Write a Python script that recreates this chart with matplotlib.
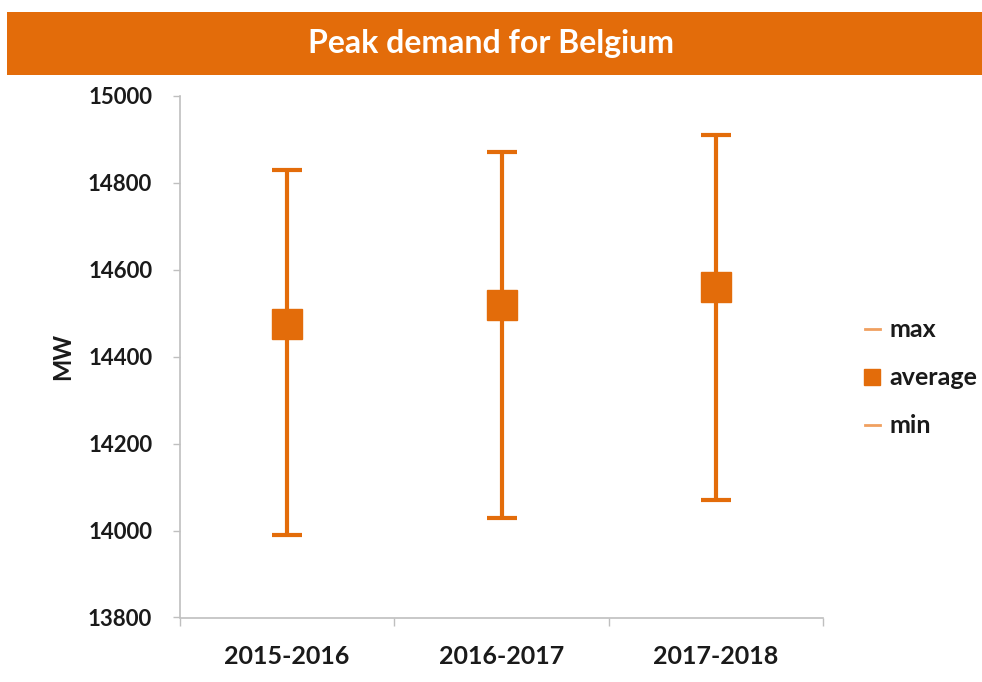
import matplotlib
matplotlib.use("Agg")
import matplotlib.pyplot as plt
from matplotlib.lines import Line2D
from matplotlib.patches import Rectangle
import numpy as np

categories = ["2015-2016", "2016-2017", "2017-2018"]
max_vals = [14830, 14870, 14910]
avg_vals = [14475, 14520, 14560]
min_vals = [13990, 14030, 14070]
yticks = [13800, 14000, 14200, 14400, 14600, 14800, 15000]

ORANGE = "#E36C0A"
GRAY = "#BFBFBF"
FONT = ["Lato", "DejaVu Sans"]

fig = plt.figure(figsize=(9.82, 6.82), dpi=100)
fig.patch.set_facecolor("white")

# Title banner
fig.patches.append(Rectangle((7/982, 1 - 75/682), 1 - 7/982, 63/682,
                             transform=fig.transFigure, facecolor=ORANGE,
                             edgecolor="none", zorder=0))
fig.text(0.5, 1 - 44/682, "Peak demand for Belgium", color="white",
         fontsize=23, fontweight="bold", family=FONT, ha="center", va="center")

ax = fig.add_axes([180/982, 1 - 617.5/682, (823 - 180)/982, (617.5 - 96)/682])
x = np.arange(len(categories)) + 0.5
avg = np.array(avg_vals)
lower = avg - np.array(min_vals)
upper = np.array(max_vals) - avg
ax.errorbar(x, avg, yerr=[lower, upper], fmt="s", color=ORANGE, ecolor=ORANGE,
            elinewidth=3, capsize=11, capthick=3, markersize=21, zorder=3)

ax.set_xlim(0, 3)
ax.set_ylim(13800, 15000)
ax.set_yticks(yticks)
ax.set_yticklabels([str(v) for v in yticks])
ax.set_xticks(x)
ax.set_xticklabels(categories)
ax.set_xticks([0, 1, 2, 3], minor=True)
ax.tick_params(axis="x", which="major", length=0, pad=20)
ax.tick_params(axis="x", which="minor", length=6, color=GRAY, width=1)
ax.tick_params(axis="y", length=5, color=GRAY, width=1, pad=15)
for lab in ax.get_xticklabels():
    lab.set_fontsize(18)
for lab in ax.get_yticklabels():
    lab.set_fontsize(16)
for lab in ax.get_xticklabels() + ax.get_yticklabels():
    lab.set_fontweight("bold")
    lab.set_family(FONT)
    lab.set_color("#1a1a1a")
for s in ["top", "right"]:
    ax.spines[s].set_visible(False)
for s in ["left", "bottom"]:
    ax.spines[s].set_color(GRAY)
    ax.spines[s].set_linewidth(1.2)

ax.set_ylabel("MW", fontsize=17, fontweight="bold", family=FONT, labelpad=10,
              color="#1a1a1a")

handles = [
    Line2D([0], [0], color="#F0A060", lw=2),
    Line2D([0], [0], color=ORANGE, marker="s", linestyle="none", markersize=11),
    Line2D([0], [0], color="#F0A060", lw=2),
]
leg = fig.legend(handles, ["max", "average", "min"], loc="center left",
                 bbox_to_anchor=(842/982, 1 - 378/682), frameon=False,
                 prop={"family": FONT, "weight": "bold", "size": 18},
                 handlelength=0.6, handletextpad=0.4, labelspacing=1.0)
for t in leg.get_texts():
    t.set_color("#1a1a1a")

fig.savefig("out.png", dpi=100)
